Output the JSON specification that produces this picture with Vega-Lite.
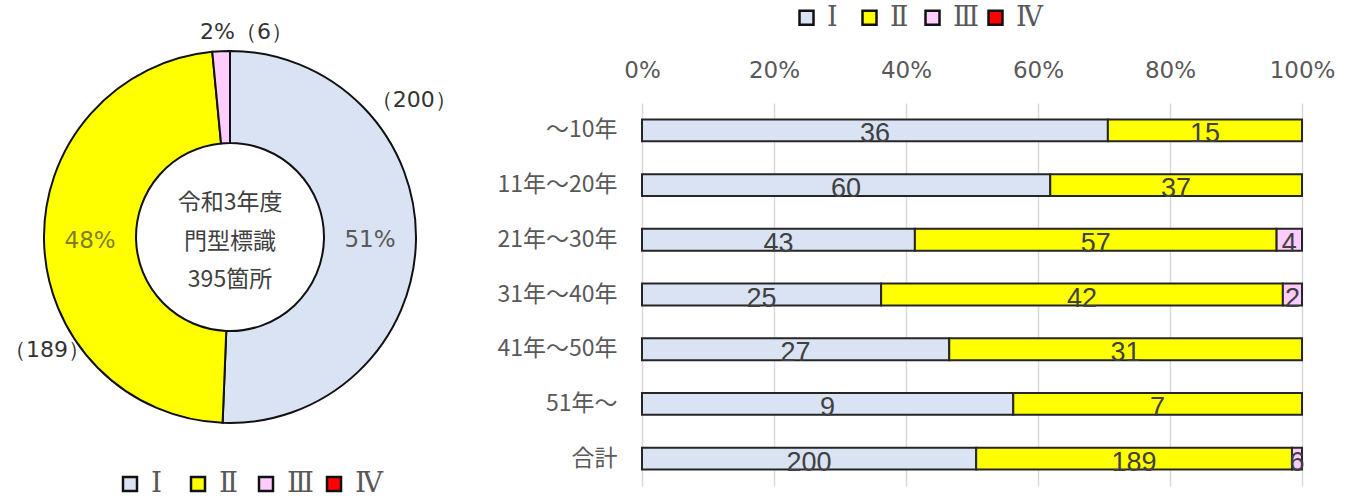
{
  "$schema": "https://vega.github.io/schema/vega-lite/v6.json",
  "padding": {"left": 0, "top": 4, "right": 0, "bottom": 0},
  "background": "white",
  "config": {"view": {"stroke": null}, "font": "Noto Sans CJK JP", "concat": {"spacing": 22}},
  "resolve": {"legend": {"color": "independent"}},
  "datasets": {
    "pie": [
      {"cat": "Ⅰ", "count": 200, "pct": "51%", "outer": "（200）"},
      {"cat": "Ⅱ", "count": 189, "pct": "48%", "outer": "（189）"},
      {"cat": "Ⅲ", "count": 6, "pct": "2%", "outer": "2%（6）"},
      {"cat": "Ⅳ", "count": 0, "pct": "", "outer": ""}
    ],
    "bars": [
      {"age": "～10年", "cat": "Ⅰ", "count": 36},
      {"age": "～10年", "cat": "Ⅱ", "count": 15},
      {"age": "11年～20年", "cat": "Ⅰ", "count": 60},
      {"age": "11年～20年", "cat": "Ⅱ", "count": 37},
      {"age": "21年～30年", "cat": "Ⅰ", "count": 43},
      {"age": "21年～30年", "cat": "Ⅱ", "count": 57},
      {"age": "21年～30年", "cat": "Ⅲ", "count": 4},
      {"age": "31年～40年", "cat": "Ⅰ", "count": 25},
      {"age": "31年～40年", "cat": "Ⅱ", "count": 42},
      {"age": "31年～40年", "cat": "Ⅲ", "count": 2},
      {"age": "41年～50年", "cat": "Ⅰ", "count": 27},
      {"age": "41年～50年", "cat": "Ⅱ", "count": 31},
      {"age": "51年～", "cat": "Ⅰ", "count": 9},
      {"age": "51年～", "cat": "Ⅱ", "count": 7},
      {"age": "合計", "cat": "Ⅰ", "count": 200},
      {"age": "合計", "cat": "Ⅱ", "count": 189},
      {"age": "合計", "cat": "Ⅲ", "count": 6}
    ]
  },
  "hconcat": [
    {
      "width": 460,
      "height": 268,
      "data": {"name": "pie"},
      "layer": [
        {
          "mark": {"type": "arc", "outerRadius": 186, "innerRadius": 94, "stroke": "#111111", "strokeWidth": 2},
          "encoding": {
            "theta": {"field": "count", "type": "quantitative", "stack": true},
            "order": {"field": "cat", "type": "ordinal", "sort": "ascending"},
            "color": {
              "field": "cat", "type": "nominal",
              "scale": {"domain": ["Ⅰ", "Ⅱ", "Ⅲ", "Ⅳ"], "range": ["#DAE3F3", "#FFFF00", "#FFCCFF", "#FF0000"]},
              "legend": {
                "title": null, "orient": "none", "direction": "horizontal", "legendX": 116, "legendY": 367, "gridAlign": "all",
                "symbolType": "square", "symbolSize": 196, "symbolStrokeColor": "#111111", "symbolStrokeWidth": 2.5,
                "labelFont": "DejaVu Serif", "labelFontSize": 28, "labelColor": "#595959", "columnPadding": 5, "labelOffset": 7
              }
            }
          }
        },
        {
          "mark": {"type": "text", "radius": 140, "fontSize": 23, "font": "DejaVu Sans"},
          "encoding": {
            "theta": {"field": "count", "type": "quantitative", "stack": true},
            "order": {"field": "cat", "type": "ordinal", "sort": "ascending"},
            "text": {"condition": {"test": "datum.cat !== 'Ⅲ'", "field": "pct"}, "value": ""},
            "color": {"condition": {"test": "datum.cat === 'Ⅱ'", "value": "#7F7F26"}, "value": "#595959"}
          }
        },
        {
          "transform": [{"filter": "datum.cat === 'Ⅰ'"}],
          "mark": {"type": "text", "radius": 229, "theta": 0.931, "fontSize": 22, "font": "DejaVu Sans", "color": "#333333"},
          "encoding": {"text": {"field": "outer"}}
        },
        {
          "transform": [{"filter": "datum.cat === 'Ⅱ'"}],
          "mark": {"type": "text", "radius": 252.7, "theta": 4.2487, "align": "left", "fontSize": 22, "font": "DejaVu Sans", "color": "#333333"},
          "encoding": {"text": {"field": "outer"}}
        },
        {
          "transform": [{"filter": "datum.cat === 'Ⅲ'"}],
          "mark": {"type": "text", "radius": 206, "theta": 0.08, "fontSize": 22, "font": "DejaVu Sans", "color": "#333333"},
          "encoding": {"text": {"field": "outer"}}
        },
        {
          "transform": [{"filter": "datum.cat === 'Ⅰ'"}],
          "mark": {"type": "text", "fontSize": 23, "lineHeight": 38.5, "color": "#404040", "baseline": "middle", "dy": -34},
          "encoding": {"text": {"datum": ["令和3年度", "門型標識", "395箇所"]}}
        }
      ]
    },
    {
      "width": 660,
      "height": 383,
      "data": {"name": "bars"},
      "encoding": {
        "y": {
          "field": "age", "type": "nominal",
          "sort": ["～10年", "11年～20年", "21年～30年", "31年～40年", "41年～50年", "51年～", "合計"],
          "scale": {"paddingInner": 0.6, "paddingOuter": 0.3},
          "axis": {"title": null, "domain": false, "ticks": false, "labelFontSize": 23, "labelColor": "#595959", "labelPadding": 25, "minExtent": 160, "maxExtent": 160}
        }
      },
      "layer": [
        {
          "mark": {"type": "bar", "stroke": "#262626", "strokeWidth": 2},
          "encoding": {
            "x": {
              "field": "count", "type": "quantitative", "stack": "normalize",
              "scale": {"domain": [0, 1]},
              "axis": {"orient": "top", "title": null, "format": "%", "values": [0, 0.2, 0.4, 0.6, 0.8, 1], "domain": false, "ticks": false, "labelFlush": false, "labelFontSize": 23, "labelColor": "#595959", "labelFont": "DejaVu Sans", "labelPadding": 21, "gridColor": "#D9D9D9", "gridWidth": 1.5}
            },
            "order": {"field": "cat", "type": "ordinal", "sort": "ascending"},
            "color": {
              "field": "cat", "type": "nominal",
              "scale": {"domain": ["Ⅰ", "Ⅱ", "Ⅲ", "Ⅳ"], "range": ["#DAE3F3", "#FFFF00", "#FFCCFF", "#FF0000"]},
              "legend": {
                "title": null, "orient": "none", "direction": "horizontal", "legendX": 151, "legendY": -99, "gridAlign": "all",
                "symbolType": "square", "symbolSize": 196, "symbolStrokeColor": "#111111", "symbolStrokeWidth": 2.5,
                "labelFont": "DejaVu Serif", "labelFontSize": 27, "labelColor": "#595959", "columnPadding": 2, "labelOffset": 7
              }
            }
          }
        },
        {
          "mark": {"type": "text", "fontSize": 27, "font": "Liberation Sans", "color": "#404040", "baseline": "middle", "dy": 4},
          "encoding": {
            "x": {"field": "count", "type": "quantitative", "stack": "normalize", "bandPosition": 0.5},
            "order": {"field": "cat", "type": "ordinal", "sort": "ascending"},
            "text": {"field": "count", "type": "quantitative"}
          }
        }
      ]
    }
  ]
}
